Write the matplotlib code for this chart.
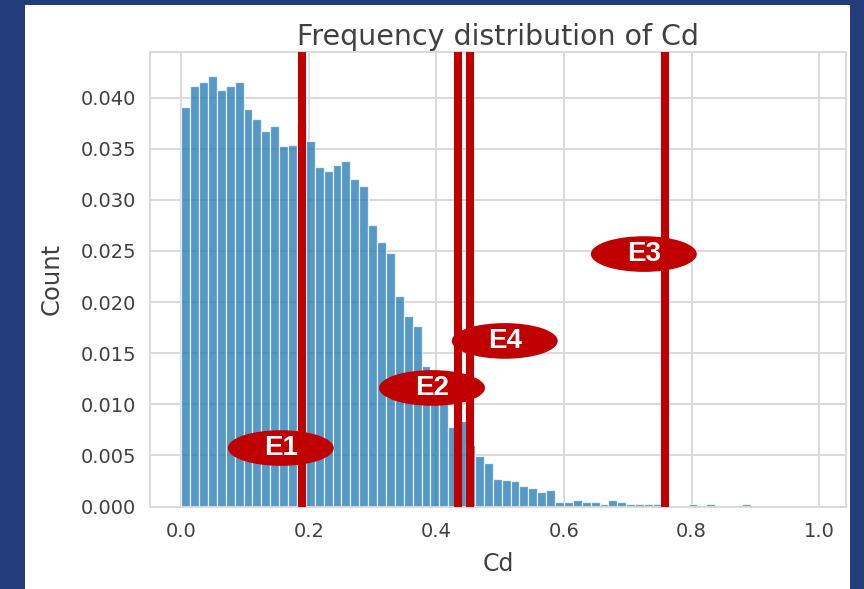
import numpy as np
import matplotlib
matplotlib.use("Agg")
import matplotlib.pyplot as plt
from matplotlib.patches import Ellipse, Rectangle

# ---- data ----
bin_width = 0.01395
probabilities = [
    0.0391, 0.0411, 0.0415, 0.0421, 0.0408, 0.0411, 0.0415, 0.0389, 0.0379, 0.0367,
    0.0372, 0.0353, 0.0354, 0.0374, 0.0358, 0.0332, 0.0328, 0.0334, 0.0338, 0.0320,
    0.0314, 0.0275, 0.0259, 0.0248, 0.0206, 0.0186, 0.0177, 0.0137, 0.0120, 0.0101,
    0.0078, 0.0084, 0.0060, 0.0049, 0.0043, 0.0027, 0.0026, 0.0025, 0.0020, 0.0018,
    0.0014, 0.0016, 0.0004, 0.0004, 0.00065, 0.0004, 0.0004, 0.0002, 0.00065, 0.0004,
    0.0002, 0.0002, 0.0002, 0.0002, 0.0001, 0.0, 0.0, 0.0002, 0.0, 0.0002,
    0.0, 0.0, 0.0, 0.0002,
]
event_names = ["E1", "E2", "E4", "E3"]
event_cd = [0.190, 0.433, 0.452, 0.758]
label_x = [0.156, 0.393, 0.507, 0.725]
label_y = [0.00572, 0.0116, 0.0162, 0.0247]
x_ticks = [0.0, 0.2, 0.4, 0.6, 0.8, 1.0]
y_ticks = [0.000, 0.005, 0.010, 0.015, 0.020, 0.025, 0.030, 0.035, 0.040]

title = "Frequency distribution of Cd"
x_label = "Cd"
y_label = "Count"

# ---- figure ----
W, H = 864, 589
fig = plt.figure(figsize=(W / 100, H / 100), dpi=100)
fig.patch.set_facecolor("#233d7a")
fig.patches.append(Rectangle((25 / W, 0), (850 - 25) / W, (H - 5) / H,
                             transform=fig.transFigure, facecolor="white",
                             edgecolor="none", zorder=-10))

ax = fig.add_axes([150 / W, (H - 506.5) / H, 695.7 / W, 454.5 / H])
ax.set_facecolor("white")

text_color = "#404040"
grid_color = "#d9d9d9"

edges = np.arange(len(probabilities)) * bin_width
ax.bar(edges, probabilities, width=bin_width, align="edge",
       color="#1f77b4", alpha=0.75, edgecolor="white", linewidth=0.9, zorder=2)

for xv in event_cd:
    ax.axvline(xv, color="#c00000", linewidth=5.8, zorder=3)

for name, lx, ly in zip(event_names, label_x, label_y):
    ax.add_patch(Ellipse((lx, ly), width=0.166, height=0.00349,
                         facecolor="#c00000", edgecolor="none", zorder=4))
    ax.text(lx, ly, name, ha="center", va="center", color="white",
            fontsize=20, fontweight="bold", family="Liberation Sans", zorder=5)

ax.set_xlim(-0.049, 1.0414)
ax.set_ylim(0, 0.04447)
ax.set_xticks(x_ticks)
ax.set_yticks(y_ticks)
ax.set_xticklabels([f"{t:.1f}" for t in x_ticks])
ax.set_yticklabels([f"{t:.3f}" for t in y_ticks])
ax.tick_params(length=0, labelsize=14, colors=text_color)
ax.tick_params(axis="x", pad=11)
ax.tick_params(axis="y", pad=10)

ax.grid(True, color=grid_color, linewidth=1.4, zorder=0)
ax.set_axisbelow(True)
for s in ax.spines.values():
    s.set_color(grid_color)
    s.set_linewidth(1.4)

ax.set_title(title, fontsize=20.5, color=text_color, pad=5)
ax.set_xlabel(x_label, fontsize=17, color=text_color, labelpad=8)
ax.set_ylabel(y_label, fontsize=17.5, color=text_color, labelpad=12)

fig.savefig("out.png", dpi=100, facecolor=fig.get_facecolor())
